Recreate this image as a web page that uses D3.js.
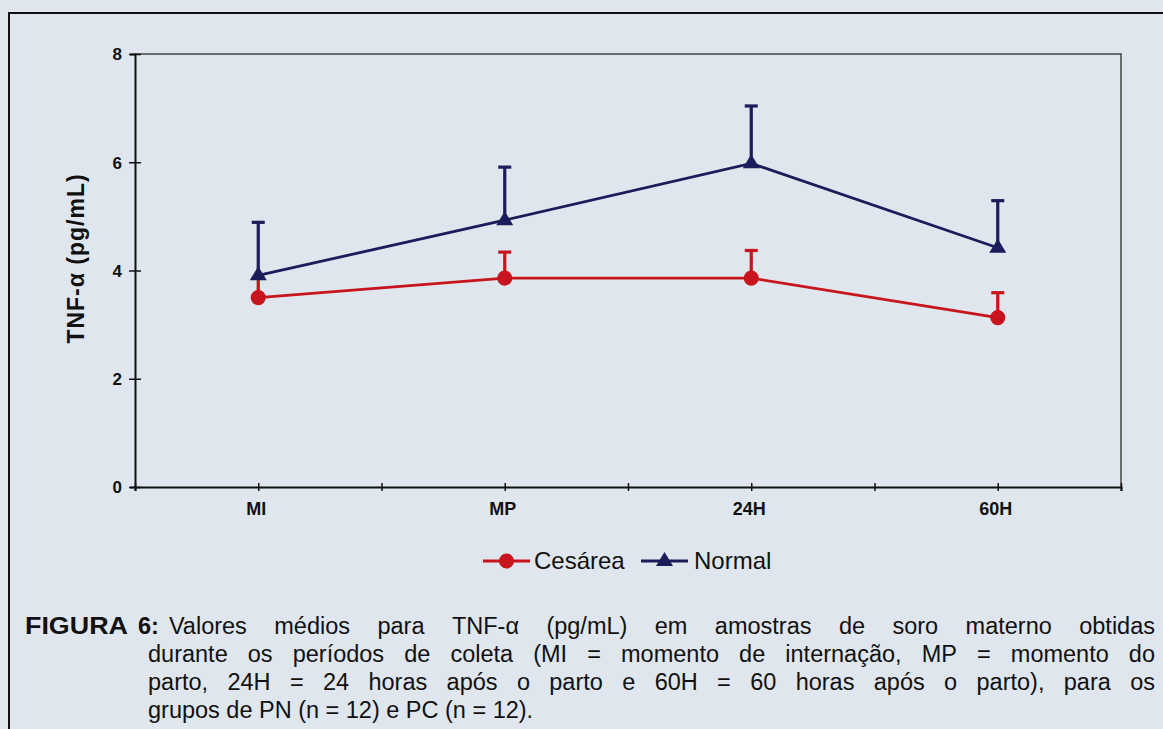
<!DOCTYPE html>
<html>
<head>
<meta charset="utf-8">
<script src="https://cdn.jsdelivr.net/npm/d3@7"></script>
<style>
  html, body { margin: 0; padding: 0; background: #dfe6ed; }
  svg { display: block; }
</style>
</head>
<body>
<svg id="fig" width="1163" height="729"></svg>
<script>
// Collection periods
const categories = ["MI", "MP", "24H", "60H"];
// Mean TNF-alpha (pg/mL) and upper error (SD) per group
const cesareaMean = [3.50, 3.86, 3.86, 3.13];
const cesareaErr  = [0.36, 0.48, 0.51, 0.46];
const normalMean  = [3.91, 4.93, 5.98, 4.42];
const normalErr   = [0.98, 0.98, 1.06, 0.87];
const yTicks = [0, 2, 4, 6, 8];
const seriesNames = ["Cesárea", "Normal"];

const captionLines = [
  { lead: ["FIGURA", "6:"], text: "Valores médios para TNF-α (pg/mL) em amostras de soro materno obtidas" },
  { text: "durante os períodos de coleta (MI = momento de internação, MP = momento do" },
  { text: "parto, 24H = 24 horas após o parto e 60H = 60 horas após o parto), para os" },
  { text: "grupos de PN (n = 12) e PC (n = 12).", last: true }
];

const svg = d3.select("#fig");
const font = "Arial, 'Liberation Sans', sans-serif";
const red = "#c8141c", navy = "#1b1c5a";

// outer figure frame (runs off the right and bottom edges)
svg.append("rect").attr("x", 9).attr("y", 13).attr("width", 1200).attr("height", 760)
  .attr("fill", "none").attr("stroke", "#111").attr("stroke-width", 2);

const plot = { left: 135, right: 1121, top: 54, bottom: 487 };
// category slots: ticks at every half-slot, categories in slot centres
const x = d3.scaleLinear().domain([0, 8]).range([plot.left, plot.right]);
const xCat = i => x(2 * i + 1);
const y = d3.scaleLinear().domain([0, 8]).range([plot.bottom, plot.top]);

// plot-area border (top and right)
svg.append("path")
  .attr("d", `M${plot.left},${plot.top}H${plot.right}V${plot.bottom}`)
  .attr("fill", "none").attr("stroke", "#444").attr("stroke-width", 1.5);

// y axis
const yAxis = svg.append("g").attr("transform", `translate(${plot.left},0)`)
  .call(d3.axisLeft(y).tickValues(yTicks).tickSize(5).tickPadding(8).tickFormat(d3.format("d")));
yAxis.select(".domain").attr("stroke", "#111").attr("stroke-width", 2);
yAxis.selectAll(".tick line").attr("stroke", "#111").attr("stroke-width", 1.5).attr("x2", 6).attr("x1", -6);
yAxis.selectAll(".tick text").attr("font-family", font).attr("font-weight", "bold")
  .attr("font-size", 17).attr("fill", "#111").attr("x", -13).attr("dy", "0.34em");

// x axis
const xAxis = svg.append("g").attr("transform", `translate(0,${plot.bottom})`)
  .call(d3.axisBottom(x).tickValues(d3.range(0, 9)).tickSize(4).tickFormat(""));
xAxis.select(".domain").attr("stroke", "#111").attr("stroke-width", 2);
xAxis.selectAll(".tick line").attr("stroke", "#111").attr("stroke-width", 1.5).attr("y1", -4).attr("y2", 4);
svg.append("g").selectAll("text").data(categories).join("text")
  .attr("x", (d, i) => xCat(i) - 2).attr("y", plot.bottom + 28)
  .attr("text-anchor", "middle").attr("font-family", font).attr("font-weight", "bold")
  .attr("font-size", 18).attr("fill", "#111").text(d => d);

// y axis title
svg.append("text")
  .attr("transform", `translate(84,${(plot.top + plot.bottom) / 2 - 12}) rotate(-90)`)
  .attr("text-anchor", "middle").attr("font-family", font).attr("font-weight", "bold")
  .attr("font-size", 23).attr("letter-spacing", 1).attr("fill", "#111").text("TNF-α (pg/mL)");

// series
const series = [
  { name: seriesNames[0], mean: cesareaMean, err: cesareaErr, color: red, symbol: "circle" },
  { name: seriesNames[1], mean: normalMean, err: normalErr, color: navy, symbol: "triangle" }
];
const line = d3.line().x((d, i) => xCat(i)).y(d => y(d));
const circle = d3.symbol().type(d3.symbolCircle).size(180);
const triPath = "M0,-9L8.5,5L-8.5,5Z";
const marker = s => s.symbol === "circle" ? circle() : triPath;

series.forEach(s => {
  const g = svg.append("g");
  // upward error bars
  s.mean.forEach((m, i) => {
    const cx = xCat(i), top = y(m + s.err[i]);
    g.append("line").attr("x1", cx).attr("x2", cx).attr("y1", y(m)).attr("y2", top)
      .attr("stroke", s.color).attr("stroke-width", 3.2);
    g.append("line").attr("x1", cx - 6.5).attr("x2", cx + 6.5).attr("y1", top).attr("y2", top)
      .attr("stroke", s.color).attr("stroke-width", 3.2);
  });
  g.append("path").attr("d", line(s.mean)).attr("fill", "none")
    .attr("stroke", s.color).attr("stroke-width", 2.8);
  g.selectAll(".mk").data(s.mean).join("path")
    .attr("transform", (d, i) => `translate(${xCat(i)},${y(d)})`)
    .attr("d", marker(s))
    .attr("fill", s.color);
});

// legend
const legend = svg.append("g").attr("transform", "translate(0,561)");
const legendItems = [
  { x0: 483, x1: 530, tx: 534, s: series[0] },
  { x0: 641, x1: 688, tx: 694, s: series[1] }
];
legendItems.forEach(it => {
  legend.append("line").attr("x1", it.x0).attr("x2", it.x1).attr("y1", 0).attr("y2", 0)
    .attr("stroke", it.s.color).attr("stroke-width", 2.8);
  legend.append("path").attr("transform", `translate(${(it.x0 + it.x1) / 2},0)`)
    .attr("d", marker(it.s)).attr("fill", it.s.color);
  legend.append("text").attr("x", it.tx).attr("y", 8).attr("font-family", font)
    .attr("font-size", 24).attr("fill", "#111").text(it.s.name);
});

// justified caption
const cap = svg.append("g").attr("font-family", font).attr("font-size", 23.5).attr("fill", "#111");
const capLeft = 25, capIndent = 148, capRight = 1155;
const baselines = [634, 662, 690, 718];
captionLines.forEach((ln, li) => {
  let start = capIndent;
  if (ln.lead) {
    const fig = cap.append("text").attr("font-weight", "bold").text(ln.lead[0]);
    const w = fig.node().getComputedTextLength();
    fig.attr("transform", `translate(${capLeft},${baselines[li]}) scale(${103 / w},1)`);
    const six = cap.append("text").attr("x", 138).attr("y", baselines[li]).attr("font-weight", "bold").text(ln.lead[1]);
    start = 138 + six.node().getComputedTextLength() + 10;
  }
  const words = ln.text.split(" ");
  const nodes = words.map(w => cap.append("text").attr("y", baselines[li]).text(w));
  const widths = nodes.map(n => n.node().getComputedTextLength());
  const total = d3.sum(widths);
  const natural = 6.5;
  const gap = ln.last ? natural : Math.max(3, (capRight - start - total) / (words.length - 1));
  let cx = start;
  nodes.forEach((n, i) => { n.attr("x", cx); cx += widths[i] + gap; });
});
</script>
</body>
</html>
